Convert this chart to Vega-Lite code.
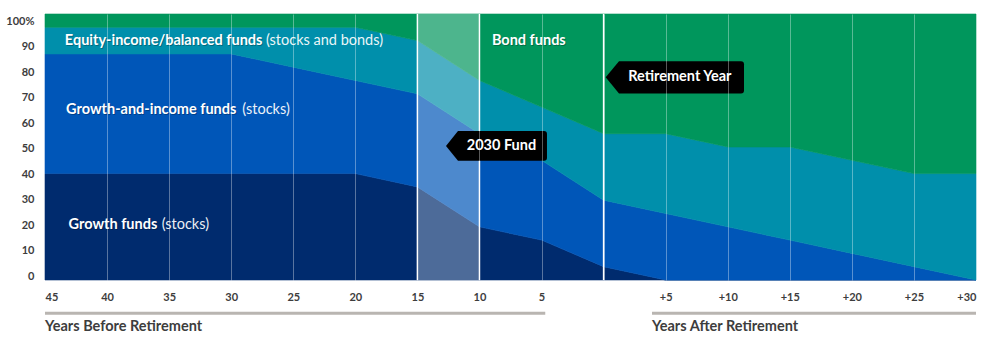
{
  "$schema": "https://vega.github.io/schema/vega-lite/v6.json",
  "width": 931,
  "height": 266,
  "autosize": {"type": "none"},
  "padding": {"left": 45, "top": 14, "right": 20, "bottom": 57},
  "background": "white",
  "config": {"view": {"stroke": null}, "font": "Lato"},
  "datasets": {
    "alloc": [
      {"yr": -45, "fund": "Growth", "k": 1, "pct": 40}, {"yr": -45, "fund": "Growth-and-income", "k": 2, "pct": 45}, {"yr": -45, "fund": "Equity-income/balanced", "k": 3, "pct": 10}, {"yr": -45, "fund": "Bond", "k": 4, "pct": 5},
      {"yr": -40, "fund": "Growth", "k": 1, "pct": 40}, {"yr": -40, "fund": "Growth-and-income", "k": 2, "pct": 45}, {"yr": -40, "fund": "Equity-income/balanced", "k": 3, "pct": 10}, {"yr": -40, "fund": "Bond", "k": 4, "pct": 5},
      {"yr": -35, "fund": "Growth", "k": 1, "pct": 40}, {"yr": -35, "fund": "Growth-and-income", "k": 2, "pct": 45}, {"yr": -35, "fund": "Equity-income/balanced", "k": 3, "pct": 10}, {"yr": -35, "fund": "Bond", "k": 4, "pct": 5},
      {"yr": -30, "fund": "Growth", "k": 1, "pct": 40}, {"yr": -30, "fund": "Growth-and-income", "k": 2, "pct": 45}, {"yr": -30, "fund": "Equity-income/balanced", "k": 3, "pct": 10}, {"yr": -30, "fund": "Bond", "k": 4, "pct": 5},
      {"yr": -25, "fund": "Growth", "k": 1, "pct": 40}, {"yr": -25, "fund": "Growth-and-income", "k": 2, "pct": 40}, {"yr": -25, "fund": "Equity-income/balanced", "k": 3, "pct": 15}, {"yr": -25, "fund": "Bond", "k": 4, "pct": 5},
      {"yr": -20, "fund": "Growth", "k": 1, "pct": 40}, {"yr": -20, "fund": "Growth-and-income", "k": 2, "pct": 35}, {"yr": -20, "fund": "Equity-income/balanced", "k": 3, "pct": 20}, {"yr": -20, "fund": "Bond", "k": 4, "pct": 5},
      {"yr": -15, "fund": "Growth", "k": 1, "pct": 35}, {"yr": -15, "fund": "Growth-and-income", "k": 2, "pct": 35}, {"yr": -15, "fund": "Equity-income/balanced", "k": 3, "pct": 20}, {"yr": -15, "fund": "Bond", "k": 4, "pct": 10},
      {"yr": -10, "fund": "Growth", "k": 1, "pct": 20}, {"yr": -10, "fund": "Growth-and-income", "k": 2, "pct": 35}, {"yr": -10, "fund": "Equity-income/balanced", "k": 3, "pct": 20}, {"yr": -10, "fund": "Bond", "k": 4, "pct": 25},
      {"yr": -5, "fund": "Growth", "k": 1, "pct": 15}, {"yr": -5, "fund": "Growth-and-income", "k": 2, "pct": 30}, {"yr": -5, "fund": "Equity-income/balanced", "k": 3, "pct": 20}, {"yr": -5, "fund": "Bond", "k": 4, "pct": 35},
      {"yr": 0, "fund": "Growth", "k": 1, "pct": 5}, {"yr": 0, "fund": "Growth-and-income", "k": 2, "pct": 25}, {"yr": 0, "fund": "Equity-income/balanced", "k": 3, "pct": 25}, {"yr": 0, "fund": "Bond", "k": 4, "pct": 45},
      {"yr": 5, "fund": "Growth", "k": 1, "pct": 0}, {"yr": 5, "fund": "Growth-and-income", "k": 2, "pct": 25}, {"yr": 5, "fund": "Equity-income/balanced", "k": 3, "pct": 30}, {"yr": 5, "fund": "Bond", "k": 4, "pct": 45},
      {"yr": 10, "fund": "Growth", "k": 1, "pct": 0}, {"yr": 10, "fund": "Growth-and-income", "k": 2, "pct": 20}, {"yr": 10, "fund": "Equity-income/balanced", "k": 3, "pct": 30}, {"yr": 10, "fund": "Bond", "k": 4, "pct": 50},
      {"yr": 15, "fund": "Growth", "k": 1, "pct": 0}, {"yr": 15, "fund": "Growth-and-income", "k": 2, "pct": 15}, {"yr": 15, "fund": "Equity-income/balanced", "k": 3, "pct": 35}, {"yr": 15, "fund": "Bond", "k": 4, "pct": 50},
      {"yr": 20, "fund": "Growth", "k": 1, "pct": 0}, {"yr": 20, "fund": "Growth-and-income", "k": 2, "pct": 10}, {"yr": 20, "fund": "Equity-income/balanced", "k": 3, "pct": 35}, {"yr": 20, "fund": "Bond", "k": 4, "pct": 55},
      {"yr": 25, "fund": "Growth", "k": 1, "pct": 0}, {"yr": 25, "fund": "Growth-and-income", "k": 2, "pct": 5}, {"yr": 25, "fund": "Equity-income/balanced", "k": 3, "pct": 35}, {"yr": 25, "fund": "Bond", "k": 4, "pct": 60},
      {"yr": 30, "fund": "Growth", "k": 1, "pct": 0}, {"yr": 30, "fund": "Growth-and-income", "k": 2, "pct": 0}, {"yr": 30, "fund": "Equity-income/balanced", "k": 3, "pct": 40}, {"yr": 30, "fund": "Bond", "k": 4, "pct": 60}
    ],
    "labels": [
      {"name": "Equity-income/balanced funds", "note": "(stocks and bonds)", "x": -43.4, "xn": -27.2, "y": 90},
      {"name": "Growth-and-income funds", "note": "(stocks)", "x": -43.3, "xn": -29.1, "y": 64},
      {"name": "Growth funds", "note": "(stocks)", "x": -43.1, "xn": -35.6, "y": 20.7},
      {"name": "Bond funds", "note": "", "x": -9.0, "xn": -9.0, "y": 90}
    ],
    "callouts": [
      {"label": "2030 Fund", "x": -8.63, "y": 50.4},
      {"label": "Retirement Year", "x": 5.74, "y": 76.2}
    ],
    "markers": [{"yr": -15}, {"yr": -10}, {"yr": 0}],
    "band": [{"from": -15, "to": -10}],
    "spans": [
      {"title": "Years Before Retirement", "from": -45, "to": -4.7},
      {"title": "Years After Retirement", "from": 3.9, "to": 30}
    ]
  },
  "layer": [
    {
      "data": {"name": "alloc"},
      "mark": {"type": "area", "interpolate": "linear", "strokeWidth": 0.6},
      "encoding": {
        "x": {
          "field": "yr", "type": "quantitative",
          "scale": {"domain": [-45, 30], "nice": false, "zero": false},
          "axis": {
            "values": [-45, -40, -35, -30, -25, -20, -15, -10, -5, 0, 5, 10, 15, 20, 25, 30],
            "tickCount": 16,
            "labelExpr": "datum.value < 0 ? '' + (-datum.value) : (datum.value == 0 ? '' : '+' + datum.value)",
            "labelFlush": true,
            "labelOverlap": false,
            "ticks": false,
            "domain": false,
            "grid": true,
            "gridColor": "white",
            "gridWidth": 1,
            "gridOpacity": {"condition": {"test": "datum.value == -45 || datum.value == 30", "value": 0}, "value": 0.35},
            "zindex": 1,
            "labelPadding": 11,
            "labelFont": "Lato",
            "labelFontSize": 11,
            "labelFontWeight": "bold",
            "labelColor": "#3d3d3d",
            "title": null
          }
        },
        "y": {
          "field": "pct", "type": "quantitative", "stack": "zero",
          "scale": {"domain": [0, 100], "nice": false},
          "axis": {
            "values": [0, 10, 20, 30, 40, 50, 60, 70, 80, 90, 100],
            "tickCount": 11,
            "labelExpr": "datum.value == 100 ? '100%' : '' + datum.value",
            "labelOffset": {"expr": "-4 + datum.value * 0.115"},
            "labelOverlap": false,
            "ticks": false,
            "domain": false,
            "grid": false,
            "labelPadding": 11,
            "labelFont": "Lato",
            "labelFontSize": 11,
            "labelFontWeight": "bold",
            "labelColor": "#3d3d3d",
            "title": null
          }
        },
        "color": {
          "field": "fund", "type": "nominal",
          "scale": {
            "domain": ["Growth", "Growth-and-income", "Equity-income/balanced", "Bond"],
            "range": ["#002b6e", "#0056b8", "#008fab", "#00965c"]
          },
          "legend": null
        },
        "stroke": {
          "field": "fund", "type": "nominal",
          "scale": {
            "domain": ["Growth", "Growth-and-income", "Equity-income/balanced", "Bond"],
            "range": ["#002b6e", "#0056b8", "#008fab", "#00965c"]
          },
          "legend": null
        },
        "order": {"field": "k", "type": "quantitative", "sort": "ascending"}
      }
    },
    {
      "data": {"name": "band"},
      "mark": {"type": "rect", "color": "white", "opacity": 0.3},
      "encoding": {
        "x": {"field": "from", "type": "quantitative"},
        "x2": {"field": "to"},
        "y": {"datum": 0},
        "y2": {"datum": 100}
      }
    },
    {
      "data": {"name": "markers"},
      "mark": {"type": "rule", "color": "white", "strokeWidth": 1.5},
      "encoding": {
        "x": {"field": "yr", "type": "quantitative"},
        "y": {"datum": 0},
        "y2": {"datum": 100}
      }
    },
    {
      "data": {"name": "labels"},
      "mark": {"type": "text", "align": "left", "baseline": "middle", "font": "Lato", "fontSize": 14.5, "fontWeight": "bold", "color": "black", "opacity": 0.25, "dx": 1, "dy": 1},
      "encoding": {
        "x": {"field": "x", "type": "quantitative"},
        "y": {"field": "y", "type": "quantitative"},
        "text": {"field": "name"}
      }
    },
    {
      "data": {"name": "labels"},
      "mark": {"type": "text", "align": "left", "baseline": "middle", "font": "Lato", "fontSize": 14.5, "fontWeight": "bold", "color": "white"},
      "encoding": {
        "x": {"field": "x", "type": "quantitative"},
        "y": {"field": "y", "type": "quantitative"},
        "text": {"field": "name"}
      }
    },
    {
      "data": {"name": "labels"},
      "mark": {"type": "text", "align": "left", "baseline": "middle", "font": "Lato", "fontSize": 14.5, "fontWeight": "normal", "color": "white", "opacity": 0.92},
      "encoding": {
        "x": {"field": "xn", "type": "quantitative"},
        "y": {"field": "y", "type": "quantitative"},
        "text": {"field": "note"}
      }
    },
    {
      "data": {"name": "callouts"},
      "mark": {"type": "point", "filled": true, "color": "black", "opacity": 1, "size": 10000, "strokeWidth": 0},
      "encoding": {
        "x": {"field": "x", "type": "quantitative"},
        "y": {"field": "y", "type": "quantitative"},
        "shape": {
          "field": "label", "type": "nominal",
          "scale": {
            "domain": ["2030 Fund", "Retirement Year"],
            "range": [
              "M-1.01,0L-0.77,-0.297L0.95,-0.297Q1.01,-0.297,1.01,-0.237L1.01,0.237Q1.01,0.297,0.95,0.297L-0.77,0.297Z",
              "M-1.383,0L-1.117,-0.323L1.323,-0.323Q1.383,-0.323,1.383,-0.263L1.383,0.263Q1.383,0.323,1.323,0.323L-1.117,0.323Z"
            ]
          },
          "legend": null
        }
      }
    },
    {
      "data": {"name": "callouts"},
      "mark": {"type": "text", "align": "center", "baseline": "middle", "font": "Lato", "fontSize": 14.5, "fontWeight": "bold", "color": "white", "dx": 5},
      "encoding": {
        "x": {"field": "x", "type": "quantitative"},
        "y": {"field": "y", "type": "quantitative"},
        "text": {"field": "label"}
      }
    },
    {
      "data": {"name": "spans"},
      "mark": {"type": "rule", "color": "#b9b5b1", "strokeWidth": 3},
      "encoding": {
        "x": {"field": "from", "type": "quantitative"},
        "x2": {"field": "to"},
        "y": {"datum": -12.5}
      }
    },
    {
      "data": {"name": "spans"},
      "mark": {"type": "text", "align": "left", "baseline": "middle", "font": "Lato", "fontSize": 14.5, "fontWeight": "bold", "color": "#3d3d3d"},
      "encoding": {
        "x": {"field": "from", "type": "quantitative"},
        "y": {"datum": -17.5},
        "text": {"field": "title"}
      }
    }
  ]
}
